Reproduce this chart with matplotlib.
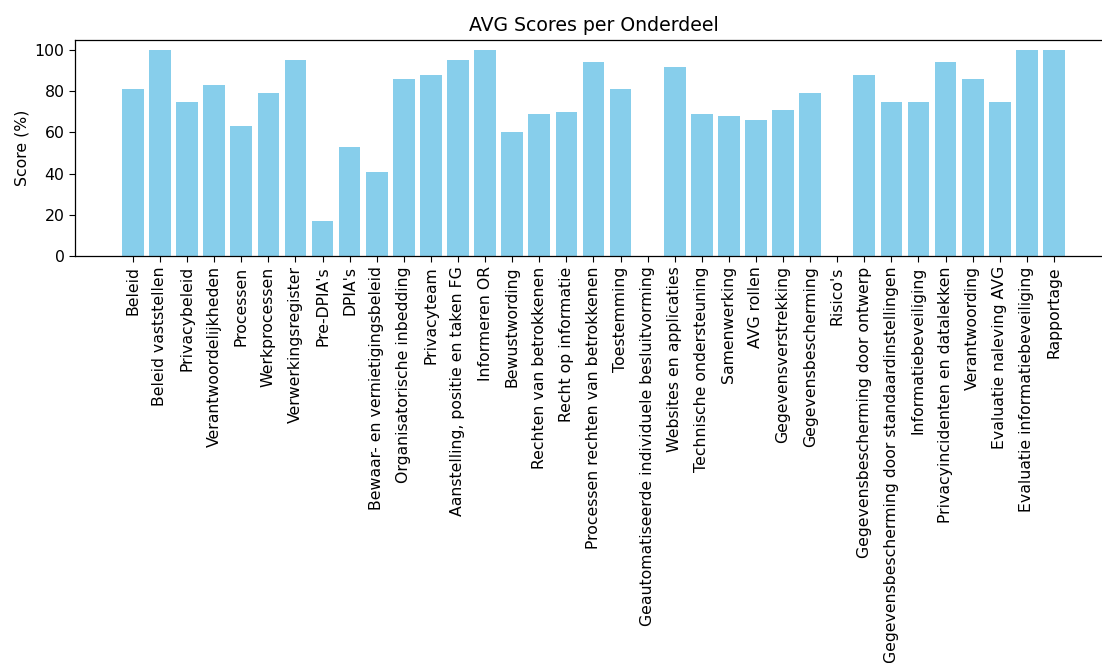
import matplotlib
matplotlib.use('Agg')
import matplotlib.pyplot as plt

onderdelen = ['Beleid', 'Beleid vaststellen', 'Privacybeleid', 'Verantwoordelijkheden',
              'Processen', 'Werkprocessen', 'Verwerkingsregister', "Pre-DPIA's", "DPIA's",
              'Bewaar- en vernietigingsbeleid', 'Organisatorische inbedding', 'Privacyteam',
              'Aanstelling, positie en taken FG', 'Informeren OR', 'Bewustwording',
              'Rechten van betrokkenen', 'Recht op informatie',
              'Processen rechten van betrokkenen', 'Toestemming',
              'Geautomatiseerde individuele besluitvorming', 'Websites en applicaties',
              'Technische ondersteuning', 'Samenwerking', 'AVG rollen',
              'Gegevensverstrekking', 'Gegevensbescherming', "Risico's",
              'Gegevensbescherming door ontwerp',
              'Gegevensbescherming door standaardinstellingen', 'Informatiebeveiliging',
              'Privacyincidenten en datalekken', 'Verantwoording', 'Evaluatie naleving AVG',
              'Evaluatie informatiebeveiliging', 'Rapportage']

scores = [81, 100, 75, 83, 63, 79, 95, 17, 53, 41, 86, 88, 95, 100, 60, 69, 70,
          94, 81, 0, 92, 69, 68, 66, 71, 79, 0, 88, 75, 75, 94, 86, 75, 100, 100]

plt.rcParams['font.size'] = 11.3
plt.rcParams['xtick.major.size'] = 4
plt.rcParams['ytick.major.size'] = 4
plt.rcParams['axes.linewidth'] = 0.9

fig = plt.figure(figsize=(11.02, 6.63), dpi=100)
# de rechterkant van de figuur is in het origineel afgesneden
ax = fig.add_axes([0.068, 0.614, 0.941, 0.326])
ax.bar(onderdelen, scores, color='skyblue')
ax.set_ylabel('Score (%)')
ax.set_title('AVG Scores per Onderdeel')
plt.setp(ax.get_xticklabels(), rotation=90)

fig.savefig('out.png', dpi=100)
